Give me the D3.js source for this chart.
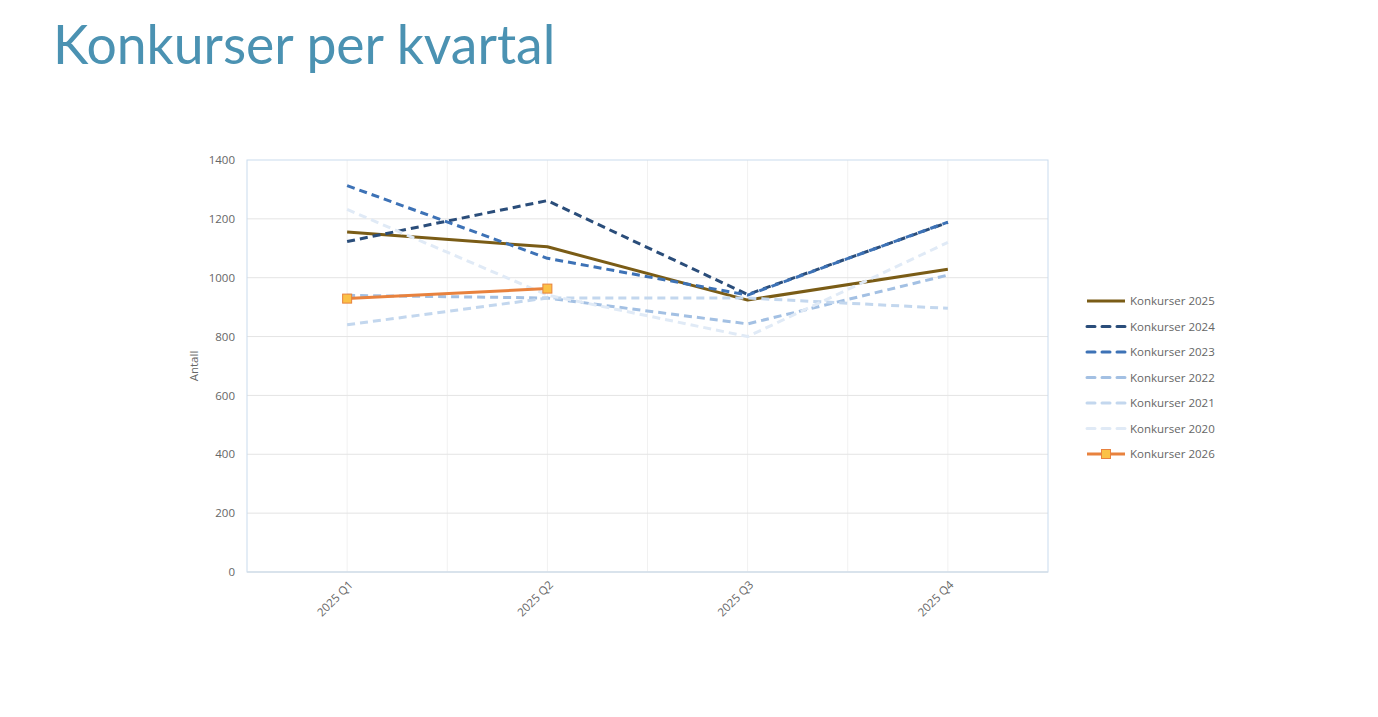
<!DOCTYPE html>
<html>
<head>
<meta charset="utf-8">
<script src="https://cdn.jsdelivr.net/npm/d3@7"></script>
<style>
  body { margin: 0; background: #fff; }
  svg { display: block; }
</style>
</head>
<body>
<div id="chart"></div>
<script>
const quarters = ["2025 Q1", "2025 Q2", "2025 Q3", "2025 Q4"];
const yTicks = [0, 200, 400, 600, 800, 1000, 1200, 1400];

const k2025 = [1155, 1105, 924, 1029];
const k2024 = [1123, 1262, 943, 1188];
const k2023 = [1313, 1066, 941, 1189];
const k2022 = [940, 931, 843, 1009];
const k2021 = [840, 931, 931, 896];
const k2020 = [1232, 941, 800, 1120];
const k2026 = [929, 963];

const series = [
  { name: "Konkurser 2025", values: k2025, color: "#7a5c16", dash: null },
  { name: "Konkurser 2024", values: k2024, color: "#2a4d7a", dash: "8,5" },
  { name: "Konkurser 2023", values: k2023, color: "#3d72b6", dash: "8,5" },
  { name: "Konkurser 2022", values: k2022, color: "#a3c0e3", dash: "8,5" },
  { name: "Konkurser 2021", values: k2021, color: "#c3d7ee", dash: "8,5" },
  { name: "Konkurser 2020", values: k2020, color: "#e0eaf6", dash: "8,5" },
  { name: "Konkurser 2026", values: k2026, color: "#e8823e", dash: null, marker: true }
];

const width = 1378, height = 717;
const plot = { left: 247, top: 160, right: 1048, bottom: 572 };
const labelFont = "'Open Sans', sans-serif";
const labelColor = "#666666";

const svg = d3.select("#chart").append("svg")
  .attr("width", width)
  .attr("height", height);

svg.append("text")
  .attr("x", 53)
  .attr("y", 64)
  .attr("fill", "#4b92b2")
  .attr("font-family", "Lato, 'Open Sans', sans-serif")
  .attr("font-size", 53.5)
  .text("Konkurser per kvartal");

const x = d3.scaleBand()
  .domain(quarters)
  .range([plot.left, plot.right]);

const y = d3.scaleLinear()
  .domain([0, 1400])
  .range([plot.bottom, plot.top]);

const cx = (i) => x(quarters[i]) + x.bandwidth() / 2;

// vertical gridlines (at band centres and band edges)
const vLines = [];
quarters.forEach((q) => {
  vLines.push(x(q));
  vLines.push(x(q) + x.bandwidth() / 2);
});
svg.append("g")
  .selectAll("line")
  .data(vLines.slice(1))
  .enter()
  .append("line")
  .attr("x1", (d) => d).attr("x2", (d) => d)
  .attr("y1", plot.top).attr("y2", plot.bottom)
  .attr("stroke", "#f1f1f1")
  .attr("stroke-width", 1);

// horizontal gridlines
svg.append("g")
  .selectAll("line")
  .data(yTicks.slice(1, -1))
  .enter()
  .append("line")
  .attr("x1", plot.left).attr("x2", plot.right)
  .attr("y1", (d) => y(d)).attr("y2", (d) => y(d))
  .attr("stroke", "#e4e4e4")
  .attr("stroke-width", 1);

// plot border
svg.append("rect")
  .attr("x", plot.left)
  .attr("y", plot.top)
  .attr("width", plot.right - plot.left)
  .attr("height", plot.bottom - plot.top)
  .attr("fill", "none")
  .attr("stroke", "#c9dbee")
  .attr("stroke-width", 1);

svg.append("line")
  .attr("x1", plot.left).attr("x2", plot.right)
  .attr("y1", plot.bottom).attr("y2", plot.bottom)
  .attr("stroke", "#d6dfe8")
  .attr("stroke-width", 1.5);

// y axis
const yAxis = svg.append("g")
  .attr("transform", `translate(${plot.left},0)`)
  .call(d3.axisLeft(y).tickValues(yTicks).tickFormat(d3.format("d")).tickSize(0).tickPadding(12));
yAxis.select(".domain").remove();
yAxis.selectAll("text")
  .attr("fill", labelColor)
  .attr("font-family", labelFont)
  .attr("font-size", 11.5);

svg.append("text")
  .attr("transform", `translate(198,${(plot.top + plot.bottom) / 2}) rotate(-90)`)
  .attr("text-anchor", "middle")
  .attr("fill", labelColor)
  .attr("font-family", labelFont)
  .attr("font-size", 11.5)
  .text("Antall");

// x axis
const xAxis = svg.append("g")
  .attr("transform", `translate(0,${plot.bottom})`)
  .call(d3.axisBottom(x).tickSize(0).tickPadding(8));
xAxis.select(".domain").remove();
xAxis.selectAll("text")
  .attr("fill", labelColor)
  .attr("font-family", labelFont)
  .attr("font-size", 11.5)
  .attr("text-anchor", "end")
  .attr("dy", "0.6em")
  .attr("transform", "translate(-4,3) rotate(-45)");

// lines, drawn in legend order
const line = d3.line()
  .x((d, i) => cx(i))
  .y((d) => y(d));

svg.append("g")
  .selectAll("path")
  .data(series)
  .enter()
  .append("path")
  .attr("d", (s) => line(s.values))
  .attr("fill", "none")
  .attr("stroke", (s) => s.color)
  .attr("stroke-width", 3)
  .attr("stroke-dasharray", (s) => s.dash)
  .attr("stroke-linejoin", "round");

// markers for 2026
svg.append("g")
  .selectAll("rect")
  .data(k2026)
  .enter()
  .append("rect")
  .attr("x", (d, i) => cx(i) - 4.5)
  .attr("y", (d) => y(d) - 4.5)
  .attr("width", 9)
  .attr("height", 9)
  .attr("fill", "#fbc146")
  .attr("stroke", "#e8823e")
  .attr("stroke-width", 1);

// legend
const legend = svg.append("g")
  .attr("transform", "translate(1086,301)");
const items = legend.selectAll("g")
  .data(series)
  .enter()
  .append("g")
  .attr("transform", (d, i) => `translate(0,${i * 25.5})`);
items.append("line")
  .attr("x1", 1).attr("x2", 39)
  .attr("y1", 0).attr("y2", 0)
  .attr("stroke", (s) => s.color)
  .attr("stroke-width", 3)
  .attr("stroke-linecap", (s) => s.dash ? "round" : "butt")
  .attr("stroke-dasharray", (s) => s.dash ? "8,7" : null);
items.filter((s) => s.marker)
  .append("rect")
  .attr("x", 15.5).attr("y", -4.5)
  .attr("width", 9).attr("height", 9)
  .attr("fill", "#fbc146")
  .attr("stroke", "#e8823e");
items.append("text")
  .attr("x", 44)
  .attr("y", 0)
  .attr("dy", "0.35em")
  .attr("fill", labelColor)
  .attr("font-family", labelFont)
  .attr("font-size", 11.5)
  .text((s) => s.name);
</script>
</body>
</html>
